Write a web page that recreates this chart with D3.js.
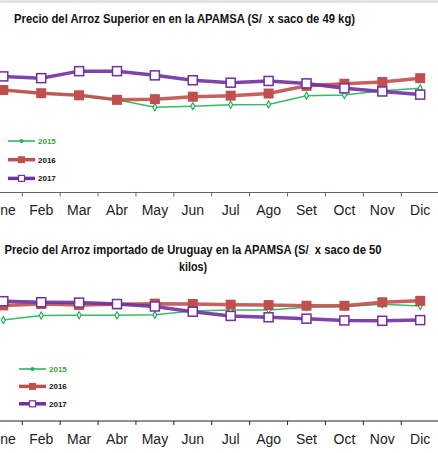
<!DOCTYPE html>
<html>
<head>
<meta charset="utf-8">
<script src="https://cdn.jsdelivr.net/npm/d3@7"></script>
<style>
  body { margin: 0; background: #fff; }
  svg { display: block; font-family: "Liberation Sans", Arial, sans-serif; }
  text { white-space: pre; }
</style>
</head>
<body>
<svg id="chart" width="438" height="453"></svg>
<script>
// months on the x axis
const months = ["Ene", "Feb", "Mar", "Abr", "May", "Jun", "Jul", "Ago", "Set", "Oct", "Nov", "Dic"];
const years = ["2015", "2016", "2017"];

// Arroz Superior, S/ x saco de 49 kg
const superior2015 = [125.7, 124.8, 124.2, 122.9, 120.8, 121.1, 121.5, 121.6, 124.1, 124.3, 125.5, 126.2];
const superior2016 = [125.7, 124.8, 124.2, 122.9, 123.1, 123.8, 124.1, 124.7, 126.9, 127.5, 128.0, 129.1];
const superior2017 = [129.6, 129.1, 131.1, 131.1, 129.9, 128.5, 127.8, 128.3, 127.6, 126.2, 125.3, 124.4];

// Arroz importado de Uruguay, S/ x saco de 50 kilos
const uruguay2015 = [125.4, 126.7, 126.8, 126.8, 126.9, 128.0, 128.3, 128.3, 129.1, 129.3, 129.9, 129.4];
const uruguay2016 = [129.6, 130.0, 129.7, 129.9, 130.1, 130.0, 129.8, 129.7, 129.5, 129.5, 130.5, 130.9];
const uruguay2017 = [130.8, 130.5, 130.4, 130.0, 129.3, 127.8, 126.6, 126.2, 125.8, 125.3, 125.2, 125.4];

const svg = d3.select("#chart");

// thin gray strip along the top edge
svg.append("rect")
    .attr("x", 0).attr("y", 0)
    .attr("width", 438).attr("height", 3)
    .attr("fill", "#e3e3e3");

const styles = {
    "2015": { color: "#1fb257", width: 1.5, marker: "diamond" },
    "2016": { color: "#c0504d", width: 3.5, marker: "square" },
    "2017": { color: "#7030a0", width: 3.5, marker: "hollow" }
};

const x = d3.scaleBand()
    .domain(months)
    .range([-15.65, -15.65 + 12 * 37.9])
    .padding(0);

function drawMarker(g, kind, cx, cy, color) {
    if (kind === "square") {
        g.append("rect")
            .attr("x", cx - 5).attr("y", cy - 5)
            .attr("width", 10).attr("height", 10)
            .attr("fill", color);
    } else if (kind === "hollow") {
        g.append("rect")
            .attr("x", cx - 4.5).attr("y", cy - 4.5)
            .attr("width", 9).attr("height", 9)
            .attr("fill", "#fff")
            .attr("stroke", color)
            .attr("stroke-width", 1.5);
    } else {
        g.append("path")
            .attr("d", d3.symbol(d3.symbolDiamond, 14)())
            .attr("transform", `translate(${cx},${cy})`)
            .attr("fill", "#fff")
            .attr("stroke", color)
            .attr("stroke-width", 1.2);
    }
}

/**
 * Draw one line panel
 */
function drawPanel(cfg) {
    const g = svg.append("g");

    const y = d3.scaleLinear()
        .domain([100, 140])
        .range([cfg.yBottom, cfg.yBottom - 140]);

    // title (squeezed to the narrow look of the original)
    const title = g.append("text")
        .attr("font-size", "12px")
        .attr("font-weight", "bold")
        .attr("fill", "#111")
        .attr("text-anchor", "middle");
    cfg.title.forEach((line, i) => {
        title.append("tspan")
            .attr("x", cfg.titleX)
            .attr("y", cfg.titleY + i * 17)
            .attr("textLength", cfg.titleWidths[i])
            .attr("lengthAdjust", "spacingAndGlyphs")
            .text(line);
    });

    // axis with ticks between categories
    const axis = d3.axisBottom(x).tickSize(4).tickSizeOuter(0).tickPadding(9);
    const ax = g.append("g")
        .attr("transform", `translate(0,${cfg.axisY})`)
        .call(axis);
    ax.select(".domain").attr("stroke", cfg.axisColor).attr("d", `M0,0H438`);
    ax.selectAll(".tick line")
        .attr("x1", x.bandwidth() / 2)
        .attr("x2", x.bandwidth() / 2)
        .attr("stroke", cfg.axisColor);
    ax.selectAll(".tick text")
        .attr("font-size", "14px")
        .attr("font-family", "\"Liberation Sans\", Arial, sans-serif")
        .attr("fill", "#222");

    const line = d3.line()
        .x((d, i) => x(months[i]) + x.bandwidth() / 2)
        .y(d => y(d));

    // series, 2017 drawn last so it sits on top
    cfg.series.forEach((vals, k) => {
        const st = styles[years[k]];
        const sg = g.append("g");
        sg.append("path")
            .datum(vals)
            .attr("d", line)
            .attr("fill", "none")
            .attr("stroke", st.color)
            .attr("stroke-width", st.width)
            .attr("stroke-opacity", 0.9);
        vals.forEach((v, i) => {
            drawMarker(sg, st.marker, x(months[i]) + x.bandwidth() / 2, y(v), st.color);
        });
    });

    // legend
    years.forEach((yr, k) => {
        const st = styles[yr];
        const ly = cfg.legendY + k * cfg.legendGap;
        const lg = g.append("g");
        lg.append("line")
            .attr("x1", cfg.legendX).attr("x2", cfg.legendX + 27)
            .attr("y1", ly).attr("y2", ly)
            .attr("stroke", st.color)
            .attr("stroke-width", st.width);
        const mx = cfg.legendX + 13.5;
        if (st.marker === "square") {
            lg.append("rect").attr("x", mx - 3.5).attr("y", ly - 3.5)
                .attr("width", 7).attr("height", 7).attr("fill", st.color);
        } else if (st.marker === "hollow") {
            lg.append("rect").attr("x", mx - 3).attr("y", ly - 3)
                .attr("width", 6).attr("height", 6)
                .attr("fill", "#fff").attr("stroke", st.color).attr("stroke-width", 1.2);
        } else {
            lg.append("circle").attr("cx", mx).attr("cy", ly).attr("r", 2)
                .attr("fill", st.color);
        }
        lg.append("text")
            .attr("x", cfg.legendX + 30)
            .attr("y", ly + 3)
            .attr("font-size", "8px")
            .attr("font-weight", "bold")
            .attr("fill", yr === "2015" ? "#3aa63a" : "#111")
            .text(yr);
    });
}

drawPanel({
    title: ["Precio del Arroz Superior en en la APAMSA (S/  x saco de 49 kg)"],
    titleWidths: [341],
    titleX: 184.5, titleY: 23,
    yBottom: 180,
    axisY: 192.5,
    axisColor: "#666",
    legendX: 8, legendY: 141, legendGap: 18.7,
    series: [superior2015, superior2016, superior2017]
});

drawPanel({
    title: ["Precio del Arroz importado de Uruguay en la APAMSA (S/  x saco de 50", "kilos)"],
    titleWidths: [377, 28],
    titleX: 193, titleY: 254,
    yBottom: 409,
    axisY: 421,
    axisColor: "#222",
    legendX: 19, legendY: 369, legendGap: 17.4,
    series: [uruguay2015, uruguay2016, uruguay2017]
});
</script>
</body>
</html>
